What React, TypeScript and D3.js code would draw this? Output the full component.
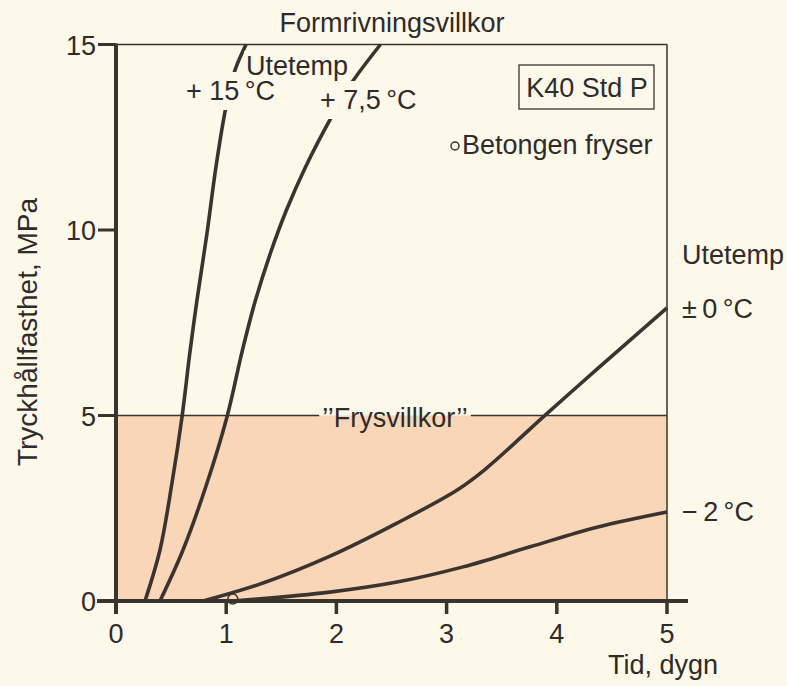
import React, { useEffect, useRef } from 'react';
import * as d3 from 'd3';

// Axis ticks
const xTicks = [0, 1, 2, 3, 4, 5];
const yTicks = [0, 5, 10, 15];
const frysLimit = 5;

// Curves: time (dygn) vs compressive strength (MPa)
const days15 = [0.263, 0.399, 0.508, 0.599, 0.671, 0.735, 0.826, 0.907, 0.998, 1.08, 1.18];
const mpa15 = [0, 1.375, 3.18, 4.96, 6.71, 8.11, 9.92, 11.7, 13.32, 14.31, 15];
const days75 = [0.399, 0.608, 0.826, 1.007, 1.148, 1.266, 1.411, 1.547, 1.72, 1.956, 2.137, 2.4];
const mpa75 = [0, 1.375, 3.18, 4.96, 6.77, 8.11, 9.46, 10.54, 11.7, 13.05, 13.96, 15];
const days0 = [0.79, 1.334, 1.942, 2.55, 3.1, 3.35, 3.91, 4.365, 5];
const mpa0 = [0, 0.485, 1.21, 2.1, 3.0, 3.55, 5.05, 6.25, 7.9];
const daysM2 = [1.06, 1.94, 2.55, 3.149, 3.757, 4.365, 5];
const mpaM2 = [0, 0.24, 0.51, 0.92, 1.46, 1.99, 2.4];
const freezeDay = [1.06];
const freezeMpa = [0];

const CREAM = '#fcf8ea';
const PEACH = '#f8d6b7';
const INK = '#3b332e';
const TXT = '#2f2b29';
const FONT = '"Liberation Sans", Arial, Helvetica, sans-serif';
const FS = 27;

export default function App() {
  const ref = useRef<SVGSVGElement>(null);
  useEffect(() => {
    document.body.style.margin = '0';
    const svg = d3.select(ref.current!);
    svg.selectAll('*').remove();
    const W = 787, H = 686;
    const x = d3.scaleLinear().domain([0, 5]).range([116, 667]);
    const y = d3.scaleLinear().domain([0, 15]).range([601, 44.5]);

    svg.append('rect').attr('width', W).attr('height', H).attr('fill', CREAM);
    svg.append('rect')
      .attr('x', x(0)).attr('y', y(frysLimit))
      .attr('width', x(5) - x(0)).attr('height', y(0) - y(frysLimit))
      .attr('fill', PEACH);

    // thin frame
    svg.append('line').attr('x1', x(0)).attr('x2', x(5)).attr('y1', y(15)).attr('y2', y(15))
      .attr('stroke', INK).attr('stroke-width', 1.5);
    svg.append('line').attr('x1', x(5)).attr('x2', x(5)).attr('y1', y(15)).attr('y2', y(0))
      .attr('stroke', INK).attr('stroke-width', 1.5);

    const txt = (s: string, px: number, py: number, anchor = 'start', size = FS) =>
      svg.append('text').attr('x', px).attr('y', py).attr('text-anchor', anchor)
        .attr('font-family', FONT).attr('font-size', size).attr('fill', TXT).text(s);

    // Frysvillkor line with gap
    const frys = txt('\u2019\u2019Frysvillkor\u2019\u2019', 395, 427, 'middle');
    const fb = (frys.node() as SVGTextElement).getBBox();
    svg.append('line').attr('x1', x(0)).attr('x2', fb.x - 3).attr('y1', y(frysLimit)).attr('y2', y(frysLimit))
      .attr('stroke', INK).attr('stroke-width', 1.5);
    svg.append('line').attr('x1', fb.x + fb.width + 3).attr('x2', x(5)).attr('y1', y(frysLimit)).attr('y2', y(frysLimit))
      .attr('stroke', INK).attr('stroke-width', 1.5);

    const line = d3.line<[number, number]>().x(d => x(d[0])).y(d => y(d[1])).curve(d3.curveCatmullRom.alpha(0.5));
    const series = [
      [days15, mpa15], [days75, mpa75], [days0, mpa0], [daysM2, mpaM2],
    ];
    series.forEach(([xs, ys]) => {
      const pts = xs.map((v, i) => [v, ys[i]] as [number, number]);
      svg.append('path').attr('d', line(pts)!).attr('fill', 'none')
        .attr('stroke', INK).attr('stroke-width', 3.6).attr('stroke-linejoin', 'round');
    });

    // labels with knock-out backgrounds
    const knock = (s: string, px: number, py: number, pad: number) => {
      const g = svg.append('g');
      const r = g.append('rect').attr('fill', CREAM);
      const t = g.append('text').attr('x', px).attr('y', py)
        .attr('font-family', FONT).attr('font-size', FS).attr('fill', TXT).text(s);
      const b = (t.node() as SVGTextElement).getBBox();
      r.attr('x', b.x - 2).attr('y', b.y - pad).attr('width', b.width + 4).attr('height', b.height + pad * 2);
    };
    knock('+ 15\u2009\u00b0C', 186, 100, 4);
    knock('+ 7,5\u2009\u00b0C', 320, 109, 4);
    knock('Utetemp', 246, 75, 0);

    txt('Formrivningsvillkor', 392, 32, 'middle');

    // K40 box
    txt('K40 Std P', 587, 97, 'middle');
    svg.append('rect').attr('x', 519).attr('y', 65).attr('width', 135).attr('height', 44)
      .attr('fill', 'none').attr('stroke', INK).attr('stroke-width', 1.3);

    // Betongen fryser legend
    svg.append('circle').attr('cx', 455).attr('cy', 146).attr('r', 4)
      .attr('fill', 'none').attr('stroke', INK).attr('stroke-width', 1.5);
    txt('Betongen fryser', 462, 154);

    // right labels
    txt('Utetemp', 682, 264);
    txt('\u00b1\u20090\u2009\u00b0C', 682, 318);
    txt('\u2212\u20092\u2009\u00b0C', 682, 521);

    // freeze point marker
    svg.append('circle').attr('cx', x(freezeDay[0])).attr('cy', y(freezeMpa[0]) - 2).attr('r', 5)
      .attr('fill', 'none').attr('stroke', INK).attr('stroke-width', 1.5);

    // axes
    svg.append('line').attr('x1', 97).attr('x2', 688).attr('y1', y(0)).attr('y2', y(0))
      .attr('stroke', INK).attr('stroke-width', 4);
    svg.append('line').attr('x1', x(0)).attr('x2', x(0)).attr('y1', y(15) - 1).attr('y2', y(0) + 13)
      .attr('stroke', INK).attr('stroke-width', 4);
    xTicks.forEach(t => {
      svg.append('line').attr('x1', x(t)).attr('x2', x(t)).attr('y1', y(0)).attr('y2', y(0) + 13)
        .attr('stroke', INK).attr('stroke-width', 3.5);
      txt(String(t), x(t), 643, 'middle');
    });
    yTicks.forEach(t => {
      svg.append('line').attr('x1', 98).attr('x2', x(0)).attr('y1', y(t)).attr('y2', y(t))
        .attr('stroke', INK).attr('stroke-width', t === 0 ? 4 : 3);
      txt(String(t), 96, y(t) + 10, 'end');
    });

    txt('Tid, dygn', 718, 674, 'end');
    svg.append('text').attr('transform', `translate(37,332) rotate(-90)`)
      .attr('text-anchor', 'middle').attr('font-family', FONT).attr('font-size', 28)
      .attr('fill', TXT).text('Tryckhållfasthet, MPa');
  }, []);
  return <svg ref={ref} width={787} height={686} style={{ position: 'absolute', left: 0, top: 0, display: 'block' }} />;
}
